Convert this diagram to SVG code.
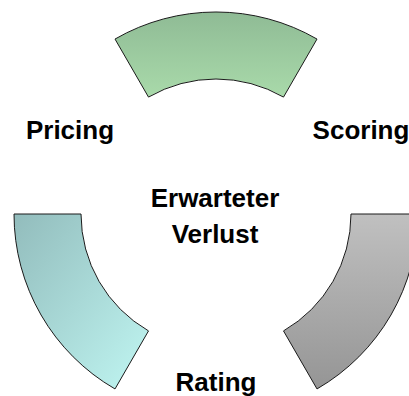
<svg xmlns="http://www.w3.org/2000/svg" width="409" height="396" viewBox="0 0 409 396">
  <defs>
    <linearGradient id="gradGreen" x1="0" y1="0" x2="0" y2="1">
      <stop offset="0" stop-color="#8FBB95"/>
      <stop offset="1" stop-color="#A9DAAA"/>
    </linearGradient>
    <linearGradient id="gradCyan" x1="0" y1="0" x2="1" y2="1">
      <stop offset="0" stop-color="#92BCBC"/>
      <stop offset="1" stop-color="#C0F6F2"/>
    </linearGradient>
    <linearGradient id="gradGrey" x1="0" y1="0" x2="0" y2="1">
      <stop offset="0" stop-color="#C0C0C0"/>
      <stop offset="1" stop-color="#959595"/>
    </linearGradient>
  </defs>
  <style>
    .seg { stroke: #1a1a1a; stroke-width: 1; stroke-linejoin: miter; }
    .label { font-family: "Liberation Sans", Arial, sans-serif; font-weight: bold; font-size: 26px; fill: #000; text-anchor: middle; }
  </style>

  <!-- ring segments around centre (216,214), outer r 202, inner r 135 -->
  <g id="segment-top">
    <path class="seg" fill="url(#gradGreen)" d="M115,39.06 A202,202 0 0 1 317,39.06 L283.5,97.09 A135,135 0 0 0 148.5,97.09 Z"/>
  </g>
  <g id="segment-right">
    <path class="seg" fill="url(#gradGrey)" d="M351,214 L418,214 A202,202 0 0 1 317,388.94 L283.5,330.91 A135,135 0 0 0 351,214 Z"/>
  </g>
  <g id="segment-left">
    <path class="seg" fill="url(#gradCyan)" d="M14,214 L81,214 A135,135 0 0 0 148.5,330.91 L115,388.94 A202,202 0 0 1 14,214 Z"/>
  </g>

  <g id="label-pricing">
    <text class="label" x="70" y="139">Pricing</text>
  </g>
  <g id="label-scoring">
    <text class="label" x="361" y="139">Scoring</text>
  </g>
  <g id="label-rating">
    <text class="label" x="216" y="391">Rating</text>
  </g>
  <g id="label-center">
    <text class="label" x="215" y="207">Erwarteter</text>
    <text class="label" x="215" y="243">Verlust</text>
  </g>
</svg>
